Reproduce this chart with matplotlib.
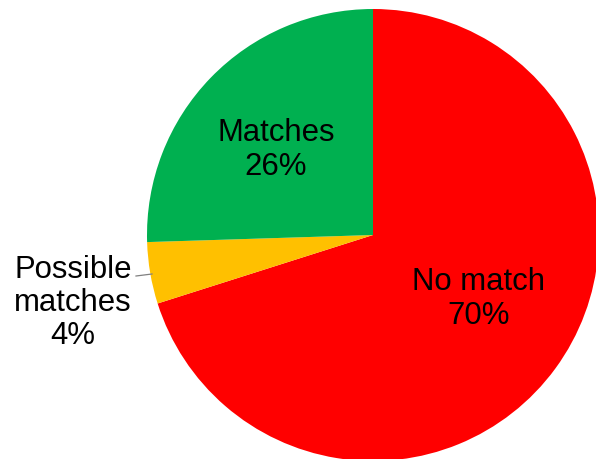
import matplotlib.pyplot as plt

# Pie data, clockwise from 12 o'clock (shares,
# percent labels as printed on the chart)
labels = ["No match", "Possible\nmatches", "Matches"]
shares = [70.1, 4.4, 25.5]
pct_labels = ["70%", "4%", "26%"]
colors = ["#FF0000", "#FFC000", "#00B050"]

W, H = 596, 460
cx, cy, r = 373, 236, 226   # pie centre and radius in pixels

def to_data(px, py):
    return (px - cx) / r, (cy - py) / r

fig = plt.figure(figsize=(W / 100, H / 100), dpi=100)
ax = fig.add_axes([(cx - r) / W, (H - cy - r) / H, 2 * r / W, 2 * r / H])

ax.pie(shares, colors=colors, startangle=90, counterclock=False, radius=1,
       wedgeprops=dict(linewidth=0), frame=True)
ax.set_xlim(-1, 1)
ax.set_ylim(-1, 1)
ax.axis("off")

font = dict(family=["Liberation Sans", "DejaVu Sans"], fontsize=22.4,
            ha="center", va="center", linespacing=1.15, color="#000000")
pos = [(479, 299), (73, 303), (276, 150)]
for lab, p, (px, py) in zip(labels, pct_labels, pos):
    x, y = to_data(px, py)
    ax.text(x, y, f"{lab}\n{p}", clip_on=False, **font)

# leader line for the small slice
x0, y0 = to_data(136, 277)
x1, y1 = to_data(152, 275)
ax.plot([x0, x1], [y0, y1], color="#808080", lw=0.9, clip_on=False)

fig.savefig("out.png", dpi=100)
